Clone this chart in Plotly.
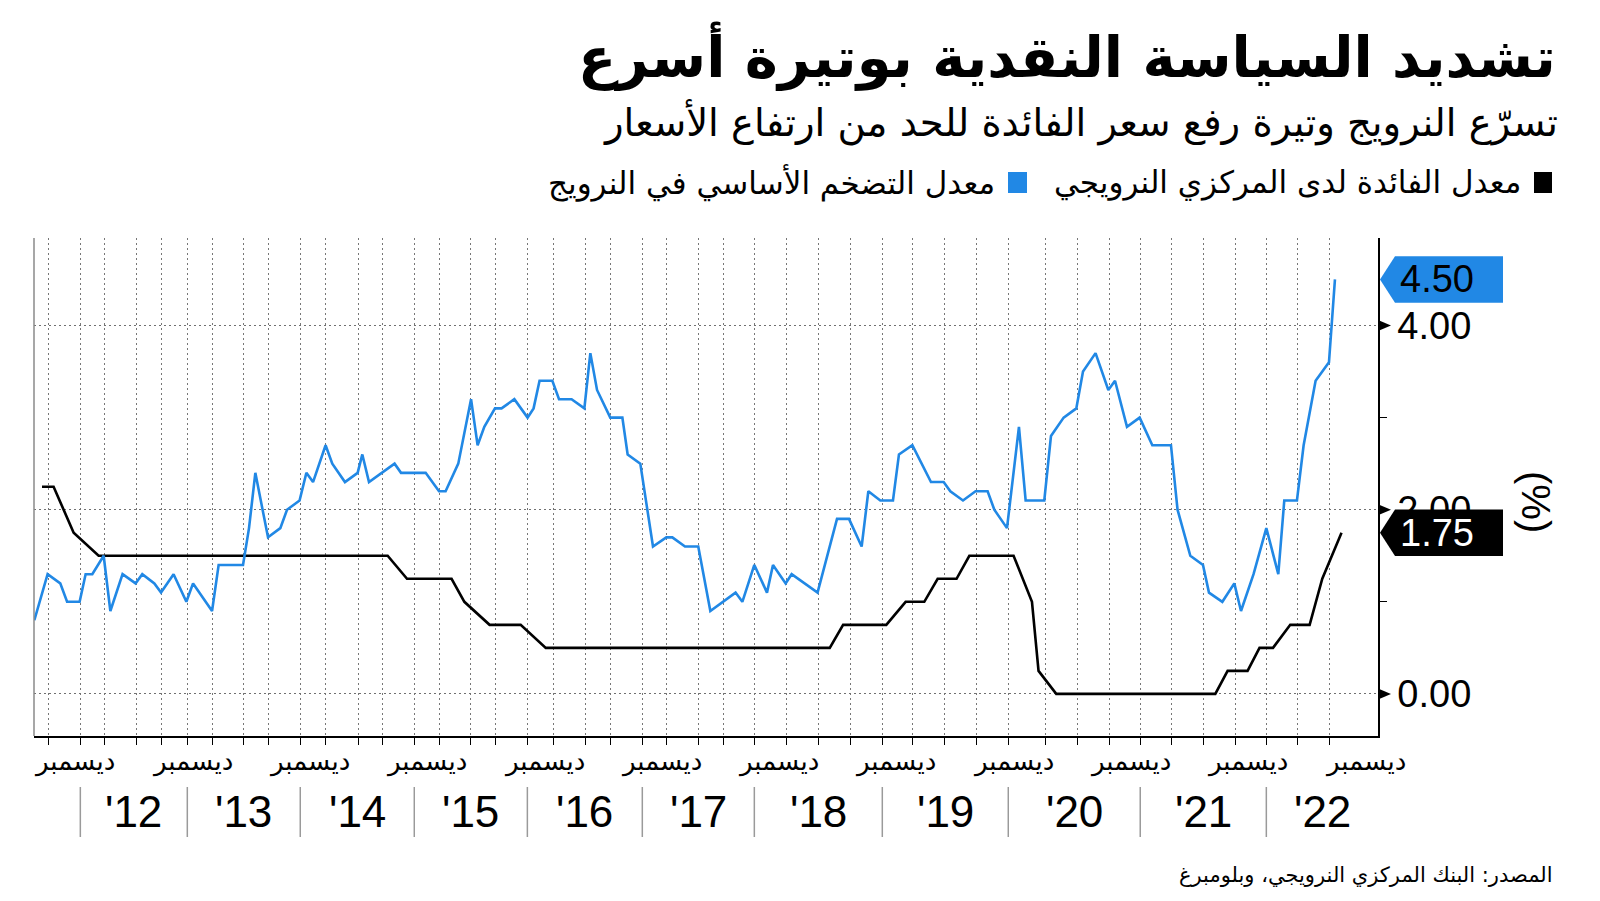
import plotly.graph_objects as go

# ---------------- data ----------------
# Core inflation, Norway (%)
infl_x = [
    2011.605, 2011.718, 2011.826, 2011.884, 2011.991, 2012.042, 2012.099, 2012.196, 2012.253, 2012.357,
    2012.468, 2012.525, 2012.628, 2012.685, 2012.792, 2012.901, 2012.958, 2013.120, 2013.176, 2013.384,
    2013.435, 2013.489, 2013.597, 2013.702, 2013.759, 2013.866, 2013.924, 2013.981, 2014.088, 2014.145,
    2014.253, 2014.361, 2014.401, 2014.458, 2014.676, 2014.731, 2014.941, 2015.055, 2015.111, 2015.219,
    2015.328, 2015.384, 2015.441, 2015.532, 2015.588, 2015.697, 2015.810, 2015.861, 2015.912, 2016.021,
    2016.078, 2016.185, 2016.294, 2016.345, 2016.402, 2016.515, 2016.618, 2016.663, 2016.771, 2016.879,
    2016.993, 2017.044, 2017.152, 2017.265, 2017.368, 2017.583, 2017.641, 2017.743, 2017.851, 2017.902,
    2018.010, 2018.061, 2018.282, 2018.448, 2018.550, 2018.658, 2018.715, 2018.817, 2018.925, 2018.976,
    2019.090, 2019.249, 2019.357, 2019.414, 2019.522, 2019.629, 2019.732, 2019.789, 2019.897, 2019.999,
    2020.056, 2020.215, 2020.272, 2020.380, 2020.488, 2020.545, 2020.652, 2020.761, 2020.818, 2020.920,
    2021.028, 2021.136, 2021.295, 2021.351, 2021.460, 2021.568, 2021.619, 2021.733, 2021.835, 2021.892,
    2021.999, 2022.108, 2022.210, 2022.261, 2022.369, 2022.426, 2022.528, 2022.642, 2022.693,
]
infl_y = [
    0.8, 1.3, 1.2, 1.0, 1.0, 1.3, 1.3, 1.5, 0.9, 1.3,
    1.2, 1.3, 1.2, 1.1, 1.3, 1.0, 1.2, 0.9, 1.4, 1.4,
    1.8, 2.4, 1.7, 1.8, 2.0, 2.1, 2.4, 2.3, 2.7, 2.5,
    2.3, 2.4, 2.6, 2.3, 2.5, 2.4, 2.4, 2.2, 2.2, 2.5,
    3.2, 2.7, 2.9, 3.1, 3.1, 3.2, 3.0, 3.1, 3.4, 3.4,
    3.2, 3.2, 3.1, 3.7, 3.3, 3.0, 3.0, 2.6, 2.5, 1.6,
    1.7, 1.7, 1.6, 1.6, 0.9, 1.1, 1.0, 1.4, 1.1, 1.4,
    1.2, 1.3, 1.1, 1.9, 1.9, 1.6, 2.2, 2.1, 2.1, 2.6,
    2.7, 2.3, 2.3, 2.2, 2.1, 2.2, 2.2, 2.0, 1.8, 2.9,
    2.1, 2.1, 2.8, 3.0, 3.1, 3.5, 3.7, 3.3, 3.4, 2.9,
    3.0, 2.7, 2.7, 2.0, 1.5, 1.4, 1.1, 1.0, 1.2, 0.9,
    1.3, 1.8, 1.3, 2.1, 2.1, 2.7, 3.4, 3.6, 4.5,
]

# Norges Bank policy rate (%)
rate_x = [2011.670, 2011.769, 2011.940, 2012.153, 2014.617, 2014.782, 2015.162, 2015.271,
          2015.486, 2015.751, 2015.965, 2018.386, 2018.500, 2018.868, 2019.033, 2019.192,
          2019.306, 2019.467, 2019.576, 2019.953, 2020.110, 2020.166, 2020.317, 2021.673,
          2021.778, 2021.948, 2022.050, 2022.165, 2022.312, 2022.477, 2022.585, 2022.749]
rate_y = [2.25, 2.25, 1.75, 1.5, 1.5, 1.25, 1.25, 1.0,
          0.75, 0.75, 0.5, 0.5, 0.75, 0.75, 1.0, 1.0,
          1.25, 1.25, 1.5, 1.5, 1.0, 0.25, 0.0, 0.0,
          0.25, 0.25, 0.5, 0.5, 0.75, 0.75, 1.25, 1.75]

# quarterly grid / tick positions on the time axis
grid_x = [2011.724, 2011.997, 2012.201, 2012.474, 2012.687, 2012.909, 2013.122, 2013.386,
          2013.600, 2013.872, 2014.086, 2014.367, 2014.571, 2014.844, 2015.057, 2015.322,
          2015.535, 2015.808, 2016.029, 2016.302, 2016.515, 2016.788, 2016.997, 2017.265,
          2017.483, 2017.743, 2018.016, 2018.288, 2018.561, 2018.834, 2019.090, 2019.363,
          2019.635, 2019.908, 2020.224, 2020.496, 2020.769, 2021.033, 2021.298, 2021.571,
          2021.843, 2022.108, 2022.372, 2022.645]
# year boundaries (separators under the axis)
year_sep_x = [2011.997, 2012.909, 2013.872, 2014.844, 2015.808, 2016.788,
              2017.743, 2018.834, 2019.908, 2021.033, 2022.108]
# "December" labels
dec_x = [2011.95, 2012.95, 2013.95, 2014.95, 2015.95, 2016.95,
         2017.95, 2018.95, 2019.95, 2020.95, 2021.95, 2022.95]
dec_label = "ديسمبر"
# year labels
year_labels = ["'12", "'13", "'14", "'15", "'16", "'17", "'18", "'19", "'20", "'21", "'22"]
year_x = [2012.453, 2013.391, 2014.358, 2015.326, 2016.298, 2017.266,
          2018.289, 2019.371, 2020.471, 2021.571, 2022.584]

y_tickvals = [0, 2, 4]
y_ticktext = ["0.00", "2.00", "4.00"]
y_minor = [1, 3]

last_infl = 4.50
last_rate = 1.75

title = "تشديد السياسة النقدية بوتيرة أسرع"
subtitle = "تسرّع النرويج وتيرة رفع سعر الفائدة للحد من ارتفاع الأسعار"
legend_rate = "معدل الفائدة لدى المركزي النرويجي"
legend_infl = "معدل التضخم الأساسي في النرويج"
source = "المصدر: البنك المركزي النرويجي، وبلومبرغ"

BLUE = "#2188E5"
AR = "DejaVu Sans"
NUM = "Liberation Sans, Arial, sans-serif"

# ---------------- layout geometry ----------------
W, H = 1600, 901
ML, MR, MT, MB = 34, 222, 238, 165
PW = W - ML - MR
PH = H - MT - MB
X_RANGE = [2011.602, 2023.060]
Y_RANGE = [-0.457, 4.95]


def px_x(px):
    return (px - ML) / PW


def px_y(py):
    return (H - MB - py) / PH


y_per_px = (Y_RANGE[1] - Y_RANGE[0]) / PH

fig = go.Figure()
fig.add_trace(go.Scatter(x=rate_x, y=rate_y, mode="lines",
                         line=dict(color="black", width=2.6), showlegend=False,
                         hoverinfo="skip"))
fig.add_trace(go.Scatter(x=infl_x, y=infl_y, mode="lines",
                         line=dict(color=BLUE, width=2.6), showlegend=False,
                         hoverinfo="skip"))

shapes = []
annotations = []

# left thin gray axis line
shapes.append(dict(type="line", xref="paper", yref="paper", x0=0, x1=0, y0=0, y1=1,
                   line=dict(color="#8a8a8a", width=1.5)))

# year separators and labels
for xs in year_sep_x:
    shapes.append(dict(type="line", xref="x", yref="paper", x0=xs, x1=xs,
                       y0=px_y(787), y1=px_y(837), line=dict(color="#9a9a9a", width=1.5)))
for xl, lab in zip(year_x, year_labels):
    annotations.append(dict(x=xl, y=px_y(811), xref="x", yref="paper", text=lab,
                            showarrow=False, xanchor="center", yanchor="middle",
                            font=dict(family=NUM, size=44, color="black")))
for xd in dec_x:
    annotations.append(dict(x=xd, y=px_y(761), xref="x", yref="paper", text=dec_label,
                            showarrow=False, xanchor="center", yanchor="middle",
                            font=dict(family=AR, size=26, color="black")))

# triangle markers on right axis at major ticks
for yv in y_tickvals:
    hh = 5.5 * y_per_px
    shapes.append(dict(type="path", xref="paper", yref="y",
                       path=f"M 1,{yv - hh} L {px_x(ML + PW + 13)},{yv} L 1,{yv + hh} Z",
                       fillcolor="black", line=dict(width=0), layer="above"))

# value label boxes
def value_box(yv, fill, txtcolor):
    hh = 23.3 * y_per_px
    x_tip = px_x(1380)
    x_sh = px_x(1395)
    x_r = px_x(1503)
    shapes.append(dict(type="path", xref="paper", yref="y",
                       path=(f"M {x_tip},{yv} L {x_sh},{yv + hh} L {x_r},{yv + hh} "
                             f"L {x_r},{yv - hh} L {x_sh},{yv - hh} Z"),
                       fillcolor=fill, line=dict(width=0), layer="above"))
    annotations.append(dict(x=px_x(1437), y=yv, xref="paper", yref="y",
                            text=f"{yv:.2f}", showarrow=False, xanchor="center",
                            yanchor="middle",
                            font=dict(family=NUM, size=38, color=txtcolor)))

value_box(last_infl, BLUE, "black")
value_box(last_rate, "black", "white")

# y-axis title
annotations.append(dict(x=px_x(1536), y=px_y(502), xref="paper", yref="paper",
                        text="(%)", textangle=90, showarrow=False,
                        xanchor="center", yanchor="middle",
                        font=dict(family=NUM, size=40, color="black")))

# titles
annotations.append(dict(x=px_x(1558), y=px_y(56), xref="paper", yref="paper",
                        text=f"<b>{title}</b>", showarrow=False, xanchor="right",
                        yanchor="middle", font=dict(family=AR, size=56, color="black")))
annotations.append(dict(x=px_x(1560), y=px_y(122), xref="paper", yref="paper",
                        text=subtitle, showarrow=False, xanchor="right",
                        yanchor="middle", font=dict(family=AR, size=38.5, color="black")))

# legend
shapes.append(dict(type="rect", xref="paper", yref="paper",
                   x0=px_x(1534), x1=px_x(1552), y0=px_y(193), y1=px_y(172),
                   fillcolor="black", line=dict(width=0)))
annotations.append(dict(x=px_x(1523), y=px_y(183), xref="paper", yref="paper",
                        text=legend_rate, showarrow=False, xanchor="right",
                        yanchor="middle", font=dict(family=AR, size=31, color="black")))
shapes.append(dict(type="rect", xref="paper", yref="paper",
                   x0=px_x(1008), x1=px_x(1027), y0=px_y(193), y1=px_y(172),
                   fillcolor=BLUE, line=dict(width=0)))
annotations.append(dict(x=px_x(997), y=px_y(183), xref="paper", yref="paper",
                        text=legend_infl, showarrow=False, xanchor="right",
                        yanchor="middle", font=dict(family=AR, size=31, color="black")))

# source
annotations.append(dict(x=px_x(1555), y=px_y(875), xref="paper", yref="paper",
                        text=source, showarrow=False, xanchor="right",
                        yanchor="middle", font=dict(family=AR, size=21, color="black")))

fig.update_layout(
    width=W, height=H,
    margin=dict(l=ML, r=MR, t=MT, b=MB, pad=0),
    paper_bgcolor="white", plot_bgcolor="white",
    showlegend=False,
    shapes=shapes, annotations=annotations,
    xaxis=dict(range=X_RANGE, tickmode="array", tickvals=grid_x,
               showticklabels=False, ticks="outside", ticklen=7, tickwidth=1,
               tickcolor="black", showgrid=True, gridcolor="#777777", gridwidth=1,
               griddash="2px,3px", showline=True, linecolor="black", linewidth=1.5,
               zeroline=False, fixedrange=True),
    yaxis=dict(range=Y_RANGE, side="right", tickmode="array", tickvals=y_tickvals,
               ticktext=y_ticktext, ticks="", showgrid=True, gridcolor="#707070",
               gridwidth=1, griddash="2px,3px", showline=True, linecolor="black",
               linewidth=1.5, zeroline=False, ticklabelstandoff=10,
               tickfont=dict(family=NUM, size=38, color="black"),
               minor=dict(tickmode="array", tickvals=y_minor, ticks="outside",
                          ticklen=7, tickcolor="black", showgrid=False),
               fixedrange=True),
)

fig.write_html("out.html",
               config={"displayModeBar": False},
               post_script="document.body.style.margin='0px';document.body.style.overflow='hidden';")
